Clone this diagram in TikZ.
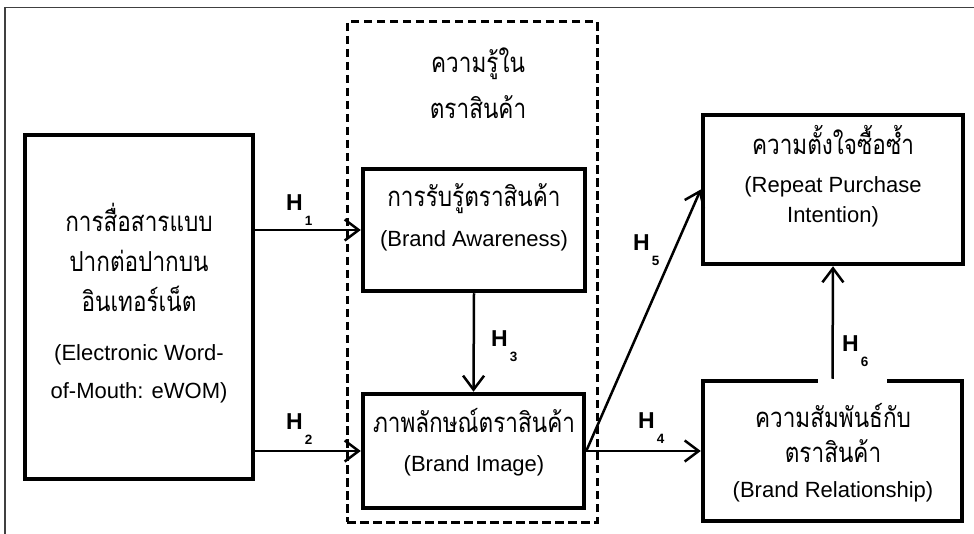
\documentclass[tikz,border=0pt]{standalone}
\usepackage{fontspec}
\setmainfont{Liberation Sans}
\newfontfamily\thaifont[Script=Thai,FakeStretch=0.82]{Loma}
\usetikzlibrary{arrows.meta,calc}
\newcommand\engsize{\fontsize{22}{26}\selectfont}
\newcommand\thsize{\fontsize{27.5}{30}\selectfont\thaifont}
\newcommand\hlab[1]{\fontsize{23}{23}\selectfont\bfseries H\hspace{2pt}\raisebox{-15pt}{\fontsize{13.5}{13.5}\selectfont #1}}
\tikzset{
  box/.style={draw=black, line width=4.5pt, fill=white, inner sep=0pt},
  grp/.style={draw=black, line width=3pt, dash pattern=on 8.5pt off 4.5pt, inner sep=0pt},
  conn/.style={draw=black, line width=2.5pt, -{Straight Barb[length=14pt,width=21pt,line width=2.5pt]}},
  th/.style={anchor=base, inner sep=0pt, font=\thsize},
  en/.style={anchor=base, inner sep=0pt, font=\engsize},
  hl/.style={anchor=base west, inner sep=0pt},
  frame/.style={draw=black!75, line width=1.5pt}
}
\begin{document}
\begin{tikzpicture}[x=1pt,y=-1pt]
\useasboundingbox[fill=white] (0,0) rectangle (974,534);
% outer frame (partial)
\draw[frame] (5,534) -- (5,7.5) -- (974,7.5);
% group
\node[grp, minimum width=250pt, minimum height=500pt] (grp) at (472,272) {};
% boxes
\node[box, minimum width=228pt, minimum height=344pt] (ewom) at (139,307) {};
\node[box, minimum width=222pt, minimum height=122pt] (aw) at (474,230) {};
\node[box, minimum width=221pt, minimum height=114pt] (img) at (473.5,451) {};
\node[box, minimum width=260pt, minimum height=149pt] (rep) at (833,189.5) {};
\node[box, minimum width=259pt, minimum height=140pt] (rel) at (832.5,451) {};
% white patch behind H6 label
\fill[white] (818,300) rectangle (887,385);
% texts
\node[th] (t1) at (139,232) {การสื่อสารแบบ};
\node[th] (t2) at (139,272) {ปากต่อปากบน};
\node[th] (t3) at (139,312) {อินเทอร์เน็ต};
\node[en] (t4) at (139,360) {(Electronic Word-};
\node[en] (t5) at (139,398) {of-Mouth: eWOM)};
\node[th] (g1) at (478,73) {ความรู้ใน};
\node[th] (g2) at (478,119) {ตราสินค้า};
\node[th] (a1) at (474,207) {การรับรู้ตราสินค้า};
\node[en] (a2) at (474,247) {(Brand Awareness)};
\node[th] (i1) at (474,432) {ภาพลักษณ์ตราสินค้า};
\node[en] (i2) at (474,471) {(Brand Image)};
\node[th] (r1) at (833,155) {ความตั้งใจซื้อซ้ำ};
\node[en] (r2) at (833,193) {(Repeat Purchase};
\node[en] (r3) at (833,223) {Intention)};
\node[th] (s1) at (833,427) {ความสัมพันธ์กับ};
\node[th] (s2) at (833,462) {ตราสินค้า};
\node[en] (s3) at (833,497) {(Brand Relationship)};
% connectors
\draw[conn] (ewom.east |- aw.west) -- (aw.west);
\draw[conn] (ewom.east |- img.west) -- (img.west);
\draw[conn] (aw.south) -- (img.north);
\draw[conn] (img.east) -- (rel.west);
\draw[conn] (img.east) -- (rep.west);
\draw[conn] (rel.north) -- (rep.south);
% hypothesis labels
\node[hl] (h1) at (286,211) {\hlab{1}};
\node[hl] (h2) at (286,429) {\hlab{2}};
\node[hl] (h3) at (491,347) {\hlab{3}};
\node[hl] (h4) at (638,428) {\hlab{4}};
\node[hl] (h5) at (633,251) {\hlab{5}};
\node[hl] (h6) at (842,352) {\hlab{6}};
\end{tikzpicture}
\end{document}
